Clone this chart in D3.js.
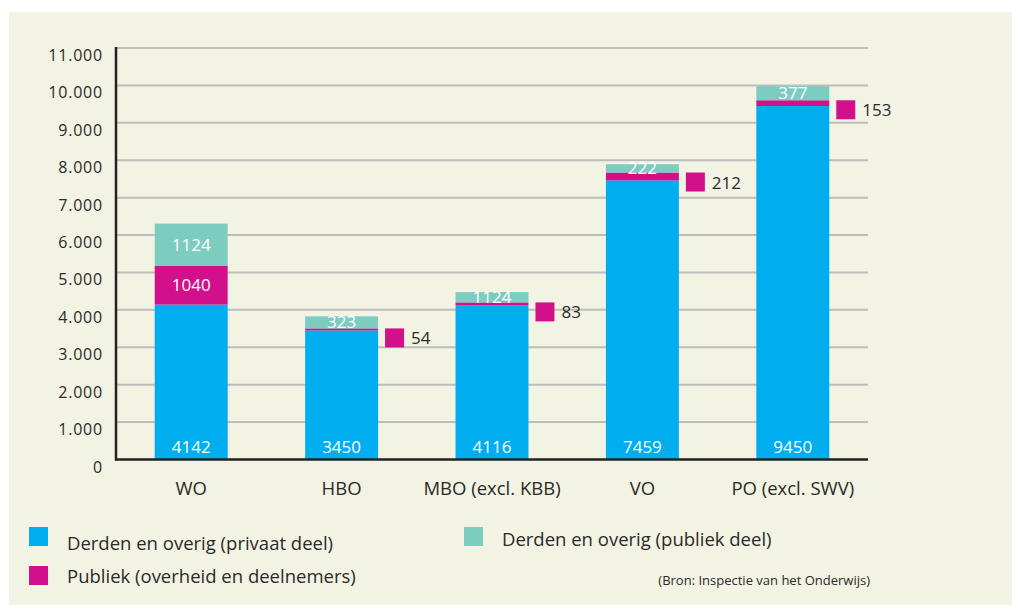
<!DOCTYPE html>
<html>
<head>
    <meta charset="utf-8">
    <title>Bekostiging per sector</title>
    <script src="https://cdn.jsdelivr.net/npm/d3@7"></script>
    <style>
        body { margin: 0; background: #ffffff; }
        text { font-family: "Open Sans", "DejaVu Sans", sans-serif; }
    </style>
</head>
<body>
<script>
// sectoren en waarden (miljoen euro)
var sectors = ["WO", "HBO", "MBO (excl. KBB)", "VO", "PO (excl. SWV)"];
var privaat = [4142, 3450, 4116, 7459, 9450];   // derden en overig (privaat deel)
var publiek = [1040, 54, 83, 212, 153];         // publiek (overheid en deelnemers)
var publiekDeel = [1124, 323, 277, 222, 377];   // derden en overig (publiek deel), zoals getekend
var publiekDeelLabels = ["1124", "323", "1124", "222", "377"]; // zoals in de bron vermeld
var yTicks = [0, 1000, 2000, 3000, 4000, 5000, 6000, 7000, 8000, 9000, 10000, 11000];

var colors = {privaat: "#00aeef", publiek: "#d2108c", publiekDeel: "#7ccdc0"};

var W = 1021, H = 605;
var svg = d3.select("body").append("svg")
    .attr("width", W)
    .attr("height", H);

// achtergrond
svg.append("rect")
    .attr("x", 9).attr("y", 12)
    .attr("width", 1003).attr("height", 593)
    .attr("fill", "#f3f3e3");

var x0 = 116, x1 = 868, yTop = 48, yBottom = 459.5;

var x = d3.scaleBand()
    .domain(sectors)
    .range([x0, x1])
    .paddingInner(0.515)
    .paddingOuter(0.2575);

var y = d3.scaleLinear()
    .domain([0, 11000])
    .range([yBottom, yTop]);

// rasterlijnen
svg.append("g")
    .selectAll("line")
    .data(yTicks.filter(function(d){ return d > 0; }))
    .enter()
    .append("line")
    .attr("x1", x0).attr("x2", x1)
    .attr("y1", function(d){ return y(d); })
    .attr("y2", function(d){ return y(d); })
    .style("stroke", "#bdbdbd")
    .style("stroke-width", 2);

// y-as labels (staan iets onder de lijn)
var fmt = function(d){ return d3.format(",")(d).replace(/,/g, "."); };
svg.append("g")
    .selectAll("text")
    .data(yTicks)
    .enter()
    .append("text")
    .attr("x", 103)
    .attr("y", function(d){ return y(d) + 13; })
    .attr("text-anchor", "end")
    .style("font-size", "16px")
    .style("letter-spacing", "0.8px")
    .style("fill", "#2a2a2a")
    .text(fmt);

// gestapelde data
var rows = sectors.map(function(s, i){
    return {sector: s, privaat: privaat[i], publiek: publiek[i], publiekDeel: publiekDeel[i], label: publiekDeelLabels[i]};
});
var stack = d3.stack().keys(["privaat", "publiek", "publiekDeel"])(rows);

var layers = svg.append("g")
    .selectAll("g")
    .data(stack)
    .enter()
    .append("g")
    .attr("fill", function(d){ return colors[d.key]; });

layers.selectAll("rect")
    .data(function(d){ return d; })
    .enter()
    .append("rect")
    .attr("x", function(d){ return x(d.data.sector); })
    .attr("width", x.bandwidth())
    .attr("y", function(d){ return y(d[1]); })
    .attr("height", function(d){ return y(d[0]) - y(d[1]); });

// assen
svg.append("line")
    .attr("x1", x0).attr("x2", x0)
    .attr("y1", yTop - 1).attr("y2", yBottom + 1)
    .style("stroke", "#222").style("stroke-width", 2.5);
svg.append("line")
    .attr("x1", x0 - 1).attr("x2", x1)
    .attr("y1", yBottom).attr("y2", yBottom)
    .style("stroke", "#222").style("stroke-width", 2.5);

var cx = function(s){ return x(s) + x.bandwidth() / 2; };

// labels in de staven
var lbl = svg.append("g")
    .style("font-size", "17px")
    .style("fill", "#ffffff")
    .attr("text-anchor", "middle");

rows.forEach(function(r){
    lbl.append("text")
        .attr("x", cx(r.sector))
        .attr("y", y(0) - 7)
        .text(r.privaat);
    var tTop = y(r.privaat + r.publiek + r.publiekDeel);
    var tBot = y(r.privaat + r.publiek);
    lbl.append("text")
        .attr("x", cx(r.sector))
        .attr("y", (tTop + tBot) / 2 + 6)
        .text(r.label);
});

// publiek: groot genoeg -> label in de staaf, anders los blokje ernaast
rows.forEach(function(r){
    var pTop = y(r.privaat + r.publiek);
    var pBot = y(r.privaat);
    if (pBot - pTop > 25) {
        lbl.append("text")
            .attr("x", cx(r.sector))
            .attr("y", (pTop + pBot) / 2 + 6)
            .text(r.publiek);
    } else {
        var mx = x(r.sector) + x.bandwidth() + 7;
        svg.append("rect")
            .attr("x", mx).attr("y", pTop)
            .attr("width", 19).attr("height", 19)
            .attr("fill", colors.publiek);
        svg.append("text")
            .attr("x", mx + 26)
            .attr("y", pTop + 16)
            .style("font-size", "17px")
            .style("fill", "#2a2a2a")
            .text(r.publiek);
    }
});

// x-as labels
svg.append("g")
    .selectAll("text")
    .data(sectors)
    .enter()
    .append("text")
    .attr("x", cx)
    .attr("y", 495)
    .attr("text-anchor", "middle")
    .style("font-size", "18.5px")
    .style("fill", "#2a2a2a")
    .text(function(d){ return d; });

// legenda
var legend = [
    {key: "privaat", text: "Derden en overig (privaat deel)", x: 29, y: 527, ty: 550},
    {key: "publiekDeel", text: "Derden en overig (publiek deel)", x: 464, y: 527, ty: 546},
    {key: "publiek", text: "Publiek (overheid en deelnemers)", x: 29, y: 566, ty: 583}
];
var lg = svg.append("g")
    .selectAll("g")
    .data(legend)
    .enter()
    .append("g");
lg.append("rect")
    .attr("x", function(d){ return d.x; })
    .attr("y", function(d){ return d.y; })
    .attr("width", 19).attr("height", 19)
    .attr("fill", function(d){ return colors[d.key]; });
lg.append("text")
    .attr("x", function(d){ return d.x + 38; })
    .attr("y", function(d){ return d.ty; })
    .style("font-size", "18.5px")
    .style("fill", "#2a2a2a")
    .text(function(d){ return d.text; });

svg.append("text")
    .attr("x", 870)
    .attr("y", 585)
    .attr("text-anchor", "end")
    .style("font-size", "13px")
    .style("fill", "#2a2a2a")
    .text("(Bron: Inspectie van het Onderwijs)");
</script>
</body>
</html>
